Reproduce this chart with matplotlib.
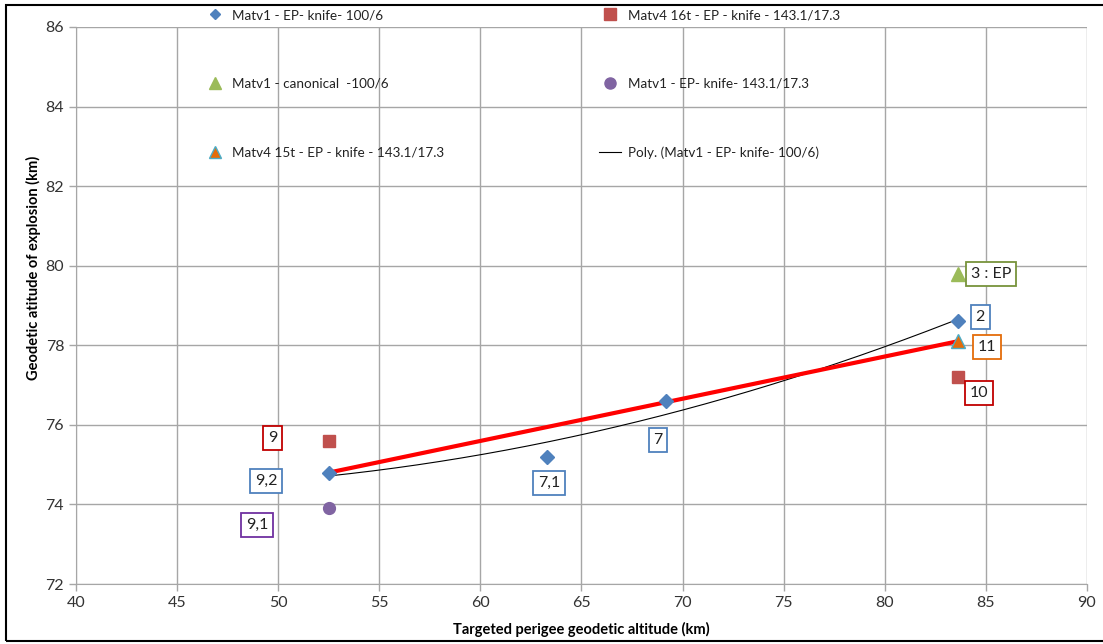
import numpy as np
import matplotlib
matplotlib.use("Agg")
import matplotlib.pyplot as plt
from matplotlib.lines import Line2D
from matplotlib.patches import Rectangle

plt.rcParams['font.family'] = ['Lato', 'DejaVu Sans']

# Data
blue_x = [52.5, 63.3, 69.2, 83.6]
blue_y = [74.8, 75.2, 76.6, 78.6]
red_sq_x = [52.5, 83.6]
red_sq_y = [75.6, 77.2]
green_x = [83.6]
green_y = [79.8]
purple_x = [52.5]
purple_y = [73.9]
orange_x = [83.6]
orange_y = [78.1]
redline_x = [52.5, 83.6]
redline_y = [74.8, 78.1]

labels = ["9", "9,2", "9,1", "7,1", "7", "2", "3 : EP", "11", "10"]
label_x = [49.74, 49.4, 48.95, 63.39, 68.78, 84.71, 85.25, 85.05, 84.66]
label_y = [75.67, 74.59, 73.48, 74.54, 75.62, 78.71, 79.79, 77.96, 76.8]
label_colors = ["#C00000", "#4F81BD", "#7030A0", "#4F81BD", "#4F81BD",
                "#4F81BD", "#77933C", "#E46C0A", "#C00000"]

fig = plt.figure(figsize=(11.03, 6.44), dpi=100)
ax = fig.add_axes([76/1103, 60/644, (1087-76)/1103, (584-27)/644])

# border
fig.patches.append(Rectangle((6/1103, 3/644), 1.2, (636)/644, transform=fig.transFigure,
                             fill=False, edgecolor='black', linewidth=1.5, zorder=0))

ax.set_xlim(40, 90)
ax.set_ylim(72, 86)
ax.set_xticks(np.arange(40, 91, 5))
ax.set_yticks(np.arange(72, 87, 2))
ax.grid(True, color='#A6A6A6', linewidth=1)
ax.set_axisbelow(True)
for s in ['top', 'right']:
    ax.spines[s].set_visible(False)
for s in ['left', 'bottom']:
    ax.spines[s].set_color('#A6A6A6')
ax.tick_params(axis='both', colors='#A6A6A6', labelcolor='#333333', labelsize=11.5, length=5, width=1)

# polynomial trendline
coef = np.polyfit(blue_x, blue_y, 2)
px = np.linspace(min(blue_x), max(blue_x), 200)
ax.plot(px, np.polyval(coef, px), color='black', linewidth=0.8, zorder=3)

ax.plot(redline_x, redline_y, color='#FF0000', linewidth=3, zorder=3, solid_capstyle='butt')

ax.plot(blue_x, blue_y, 'D', color='#4F81BD', markersize=7, linestyle='none', zorder=4)
ax.plot(red_sq_x, red_sq_y, 's', color='#C0504D', markersize=8.5, linestyle='none', zorder=4)
ax.plot(green_x, green_y, '^', color='#9BBB59', markersize=9.5, linestyle='none', zorder=4)
ax.plot(purple_x, purple_y, 'o', color='#8064A2', markersize=8.5, linestyle='none', zorder=4)
ax.plot(orange_x, orange_y, '^', color='#E46C0A', markeredgecolor='#4BACC6', markeredgewidth=1,
        markersize=9.5, linestyle='none', zorder=5)

for t, x, y, c in zip(labels, label_x, label_y, label_colors):
    ax.text(x, y, t, ha='center', va='center', fontsize=11.5, color='#222222', zorder=6,
            bbox=dict(boxstyle='square,pad=0.3', facecolor='white', edgecolor=c, linewidth=1.3))

ax.set_xlabel('Targeted perigee geodetic altitude (km)', fontsize=10.5, fontweight='bold', labelpad=9)
fig.text(33/1103, 1 - 268/644, 'Geodetic atitude of explosion (km)', rotation=90,
         ha='center', va='center', fontsize=10.5, fontweight='bold')

handles = [
    Line2D([], [], marker='D', color='#4F81BD', linestyle='none', markersize=5.5),
    Line2D([], [], marker='^', color='#9BBB59', linestyle='none', markersize=8),
    Line2D([], [], marker='^', color='#E46C0A', markeredgecolor='#4BACC6', linestyle='none', markersize=8),
    Line2D([], [], marker='s', color='#C0504D', linestyle='none', markersize=8),
    Line2D([], [], marker='o', color='#8064A2', linestyle='none', markersize=8),
    Line2D([], [], color='black', linewidth=0.8),
]
leg_labels = [
    'Matv1 - EP- knife- 100/6',
    'Matv1 - canonical  -100/6',
    'Matv4 15t - EP - knife - 143.1/17.3',
    'Matv4 16t - EP - knife - 143.1/17.3',
    'Matv1 - EP- knife- 143.1/17.3',
    'Poly. (Matv1 - EP- knife- 100/6)',
]
leg = fig.legend(handles, leg_labels, ncol=2, loc='upper left', bbox_to_anchor=(192/1103, 1 + 3/644),
                 frameon=False, fontsize=9.7, labelspacing=4.2, columnspacing=11.5,
                 handlelength=1.6, handletextpad=0.5)
for t in leg.get_texts():
    t.set_color('#222222')

fig.savefig('out.png', dpi=100)
